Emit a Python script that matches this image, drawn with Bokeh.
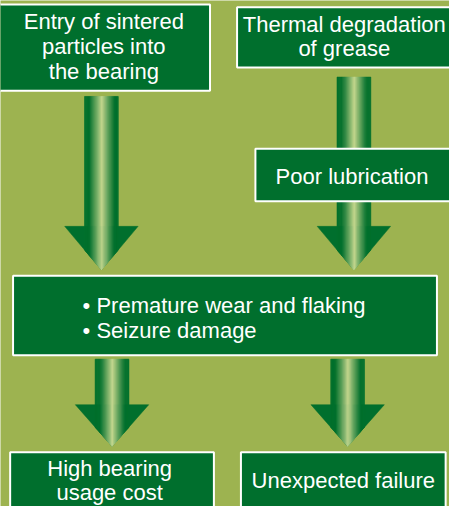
from bokeh.plotting import figure
from bokeh.models import Range1d
from bokeh.core.properties import value
from bokeh.embed import file_html
from bokeh.resources import INLINE

# ---- content (texts) ----
box1_lines = ["Entry of sintered", "particles into", "the bearing"]
box2_lines = ["Thermal degradation", "of grease"]
box3_lines = ["Poor lubrication"]
box4_lines = ["\u2022 Premature wear and flaking", "\u2022 Seizure damage"]
box5_lines = ["High bearing", "usage cost"]
box6_lines = ["Unexpected failure"]

# ---- layout (reference pixel coordinates) ----
box_left = [-5, 245, 264, 13, 10, 249]
box_right = [217, 470, 470, 452, 221, 461]
box_top = [4, 7, 153, 284, 466, 466]
box_bottom = [93, 69, 207, 366, 530, 530]

# arrows: centre x, shaft top, head top, tip y
arr_cx = [104.5, 366, 115.5, 359.5]
arr_top = [99, 79, 370, 370]
arr_head = [233, 233, 417, 417]
arr_tip = [278, 278, 460, 460]
shaft_hw = 17.5
head_hw = 38

BG = "#9db350"
DARK = "#006f2d"
dark_rgb = (0, 112, 45)
light_rgb = (198, 216, 144)

W, H = 449, 506
p = figure(width=W, height=H, output_backend="svg", toolbar_location=None,
           x_range=Range1d(0, 465), y_range=Range1d(522, 0), min_border=0)
p.axis.visible = False
p.grid.visible = False
p.outline_line_color = None
p.background_fill_color = BG
p.border_fill_color = BG


def shade(t):
    b = max(0.0, 1 - abs(t - 0.52) / 0.38)
    b = b ** 1.1
    r = [int(d + b * (l - d)) for d, l in zip(dark_rgb, light_rgb)]
    return "#%02x%02x%02x" % tuple(r)


# arrow heads (dark triangles)
tri_xs, tri_ys = [], []
for cx, hd, tp in zip(arr_cx, arr_head, arr_tip):
    tri_xs.append([cx - head_hw, cx + head_hw, cx])
    tri_ys.append([hd, hd, tp])
p.patches(tri_xs, tri_ys, fill_color=DARK, line_color=DARK, line_width=0.5)

# gradient strips for shafts (extend into head down to triangle edges)
N = 30
sx, sy, sc = [], [], []
for cx, top, hd, tp in zip(arr_cx, arr_top, arr_head, arr_tip):
    def edge(x):
        return tp - (tp - hd) * abs(x - cx) / head_hw
    for i in range(N):
        x0 = cx - shaft_hw + 2 * shaft_hw * i / N
        x1 = cx - shaft_hw + 2 * shaft_hw * (i + 1) / N
        sx.append([x0, x1, x1, x0])
        sy.append([top, top, edge(x1), edge(x0)])
        sc.append(shade((i + 0.5) / N))
p.patches(sx, sy, fill_color=sc, line_color=sc, line_width=0.6)

# boxes
p.quad(left=box_left, right=box_right, top=box_top, bottom=box_bottom,
       fill_color=DARK, line_color="white", line_width=2)

FONT = value("Liberation Sans")
FS = "22px"


def centered(lines, cx, y0, dy):
    ys = [y0 + k * dy for k in range(len(lines))]
    p.text(x=[cx] * len(lines), y=ys, text=lines, text_align="center",
           text_baseline="middle", text_font=FONT, text_font_size=FS,
           text_color="white")


centered(box1_lines, 107, 22, 25.5)
centered(box2_lines, 356, 25, 25)
centered(box3_lines, 364, 182, 25)
p.text(x=[85, 85], y=[315, 340], text=box4_lines, text_align="left",
       text_baseline="middle", text_font=FONT, text_font_size=FS,
       text_color="white")
centered(box5_lines, 113, 483, 25)
centered(box6_lines, 355, 495, 25)

open("out.html", "w").write(file_html(p, INLINE))
